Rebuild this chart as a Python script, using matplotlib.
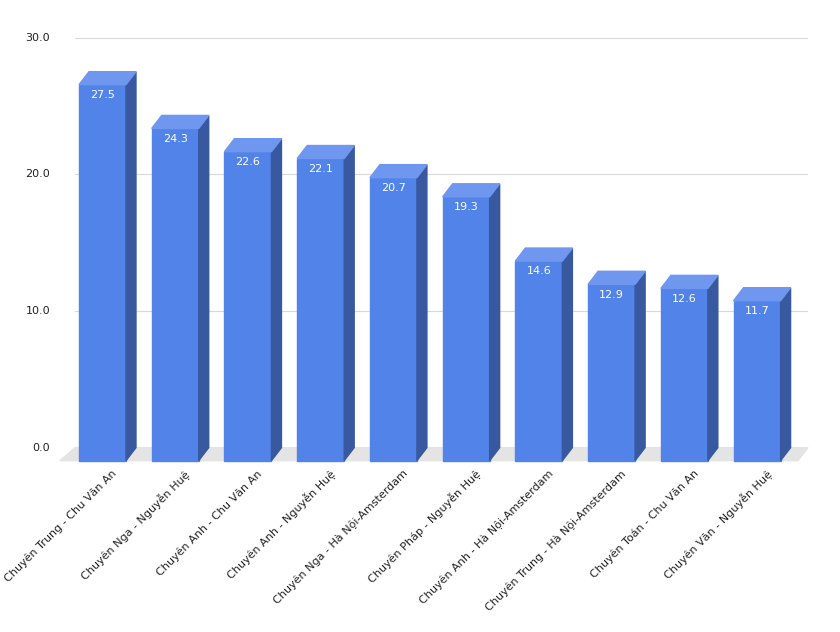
import matplotlib
matplotlib.use("Agg")
import matplotlib.pyplot as plt
from matplotlib.patches import Polygon

categories = ["Chuyên Trung - Chu Văn An", "Chuyên Nga - Nguyễn Huệ", "Chuyên Anh - Chu Văn An",
              "Chuyên Anh - Nguyễn Huệ", "Chuyên Nga - Hà Nội-Amsterdam", "Chuyên Pháp - Nguyễn Huệ",
              "Chuyên Anh - Hà Nội-Amsterdam", "Chuyên Trung - Hà Nội-Amsterdam", "Chuyên Toán - Chu Văn An",
              "Chuyên Văn - Nguyễn Huệ"]
values = [27.5, 24.3, 22.6, 22.1, 20.7, 19.3, 14.6, 12.9, 12.6, 11.7]
yticks = [0, 10, 20, 30]

fig = plt.figure(figsize=(8.4, 6.32), dpi=100)
ax = fig.add_axes([75/840, (632-475)/632, 733/840, 458/632])
ax.set_xlim(-0.378, 9.70)
ax.set_ylim(-2, 31.5)
ax.axis("off")

w = 0.646
dx, dy = 0.1375, 0.95
front, side, top = "#5283e9", "#38599f", "#6f97ef"

# floor
ax.add_patch(Polygon([(-0.378 + dx*0.0, 0), (9.70, 0), (9.70 - dx, -dy), (-0.378 - dx*1.5, -dy)],
                     closed=True, color="#e4e4e4", zorder=1, clip_on=False))
for t in yticks:
    ax.plot([-0.378, 9.70], [t, t], color="#d9d9d9", lw=0.8, zorder=0.5)
    ax.text(-0.72, t, f"{t:.1f}", ha="right", va="center", fontsize=8, color="#222222")

for i, v in enumerate(values):
    x0 = i - w/2
    b = -dy
    ax.add_patch(Polygon([(x0, b), (x0+w, b), (x0+w, b+v), (x0, b+v)], closed=True, color=front, zorder=3, clip_on=False))
    ax.add_patch(Polygon([(x0+w, b), (x0+w+dx, 0), (x0+w+dx, v), (x0+w, b+v)], closed=True, color=side, zorder=3, clip_on=False))
    ax.add_patch(Polygon([(x0, b+v), (x0+w, b+v), (x0+w+dx, v), (x0+dx, v)], closed=True, color=top, zorder=3, clip_on=False))
    ax.text(i, b + v - 0.75, f"{v:.1f}", ha="center", va="center", color="white", fontsize=8, zorder=4)
    ax.text(i + 0.12, -1.5, categories[i], rotation=45, ha="right", va="top", rotation_mode="anchor",
            fontsize=8, color="#222222")

fig.savefig("out.png", dpi=100)
